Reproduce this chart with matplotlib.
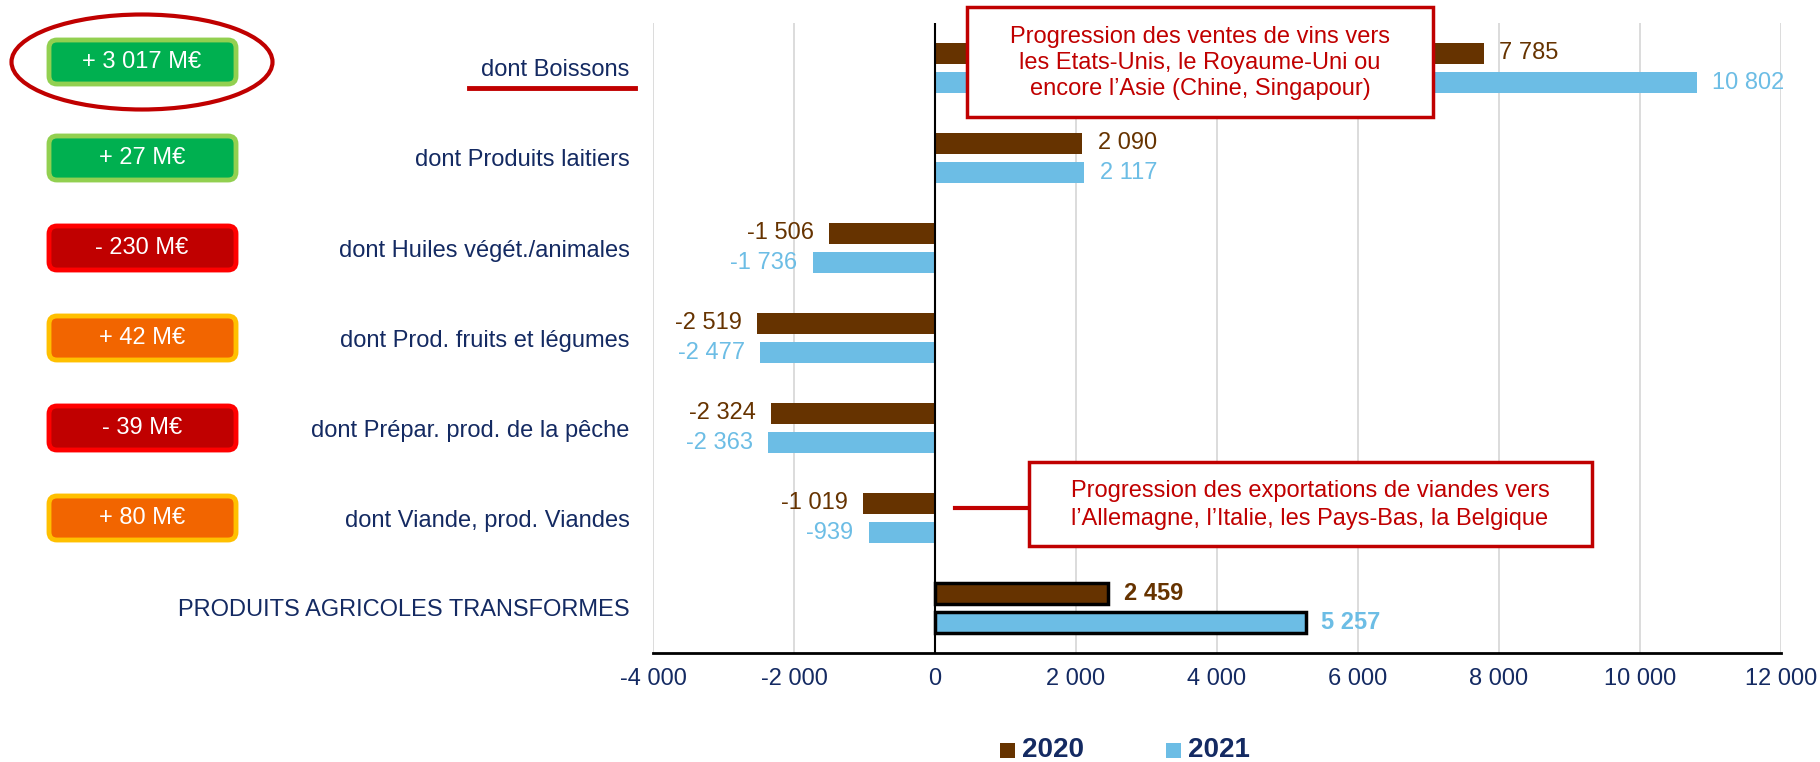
import matplotlib.pyplot as plt
from matplotlib.patches import FancyBboxPatch, Ellipse, Rectangle

plt.rcParams['font.family'] = ['Liberation Sans', 'DejaVu Sans']

# données (M€)
categories = ["dont Boissons", "dont Produits laitiers", "dont Huiles végét./animales",
              "dont Prod. fruits et légumes", "dont Prépar. prod. de la pêche",
              "dont Viande, prod. Viandes", "PRODUITS AGRICOLES TRANSFORMES"]
val_2020 = [7785, 2090, -1506, -2519, -2324, -1019, 2459]
val_2021 = [10802, 2117, -1736, -2477, -2363, -939, 5257]
ecart_types = ["vert", "vert", "rouge", "orange", "rouge", "orange"]
xticks = [-4000, -2000, 0, 2000, 4000, 6000, 8000, 10000, 12000]

note_boissons = "Progression des ventes de vins vers\nles Etats-Unis, le Royaume-Uni ou\nencore l\u2019Asie (Chine, Singapour)"
note_viandes = "Progression des exportations de viandes vers\nl\u2019Allemagne, l\u2019Italie, les Pays-Bas, la Belgique"

brun = "#663300"
bleu = "#6CBDE5"
marine = "#142A62"
rouge = "#C00000"
styles_boites = {"vert": ("#00B050", "#92D050"),
                 "rouge": ("#C00000", "#FF0000"),
                 "orange": ("#F26500", "#FFC000")}


def fr(v):
    return f"{v:,}".replace(",", " ")


W, H = 1820, 762
fig = plt.figure(figsize=(W / 100, H / 100), dpi=100)
ax = fig.add_axes([653 / W, 1 - 653 / H, (1781 - 653) / W, (653 - 23) / H])

n = len(categories)
pos = [n - 1 - i for i in range(n)]
off, h = 0.163, 0.24
edges = ["none"] * (n - 1) + ["black"]
lws = [0] * (n - 1) + [2.5]

ax.barh([p + off for p in pos], val_2020, height=h, color=brun, edgecolor=edges, linewidth=lws, zorder=3)
ax.barh([p - off for p in pos], val_2021, height=h, color=bleu, edgecolor=edges, linewidth=lws, zorder=3)

for vals, dy, col in [(val_2020, off, brun), (val_2021, -off, bleu)]:
    for i, (p, v) in enumerate(zip(pos, vals)):
        ax.annotate(fr(v), xy=(v, p + dy), xytext=(11 if v > 0 else -11, 0),
                    textcoords="offset points", ha="left" if v > 0 else "right",
                    va="center", color=col, fontsize=17,
                    fontweight="bold" if i == n - 1 else "normal", zorder=4)

ax.set_xlim(-4000, 12000)
ax.set_ylim(-0.5, n - 0.5)
ax.set_xticks(xticks, [fr(t) for t in xticks])
ax.set_yticks(pos, categories)
ax.tick_params(axis="x", length=0, pad=11, labelsize=17, labelcolor=marine)
ax.tick_params(axis="y", length=0, pad=17, labelsize=17, labelcolor=marine)
ax.grid(axis="x", color="#D9D9D9", linewidth=1.3)
ax.set_axisbelow(True)
ax.axvline(0, color="black", linewidth=1.5, zorder=3)
for s in ["left", "top", "right"]:
    ax.spines[s].set_visible(False)
ax.spines["bottom"].set_linewidth(2)

# calque en pixels pour les boites et annotations
ov = fig.add_axes([0, 0, 1, 1])
ov.set_xlim(0, W)
ov.set_ylim(H, 0)
ov.axis("off")

cys = [H - ax.transData.transform((0, p))[1] for p in pos]

for i, t in enumerate(ecart_types):
    d = val_2021[i] - val_2020[i]
    txt = f"{'+' if d > 0 else '-'} {fr(abs(d))} M€"
    fc, ec = styles_boites[t]
    cy = cys[i] - (6 if i == 0 else 0)
    ov.add_patch(FancyBboxPatch((49, cy - 22), 187, 44, boxstyle="round,pad=0,rounding_size=8",
                                fc=fc, ec=ec, lw=3.5))
    ov.text(142, cy, txt, color="white", fontsize=17, ha="center", va="center")

ov.add_patch(Ellipse((142, cys[0] - 6), 261, 95, fc="none", ec=rouge, lw=3))
ov.plot([469, 635], [cys[0] + 20, cys[0] + 20], color=rouge, lw=3.5)

ov.add_patch(Rectangle((967, 7), 466, 110, fc="white", ec=rouge, lw=2.5, zorder=5))
ov.text(1200, 63, note_boissons, color=rouge, fontsize=17, ha="center", va="center",
        linespacing=1.21, zorder=6)

ov.plot([955, 1029], [508, 508], color=rouge, lw=3)
ov.add_patch(Rectangle((1029, 462), 563, 84, fc="white", ec=rouge, lw=2.5, zorder=5))
ov.text(1310, 505, note_viandes, color=rouge, fontsize=17, ha="center", va="center",
        linespacing=1.32, zorder=6)

# légende
for x0, col, lab in [(1000, brun, "2020"), (1166, bleu, "2021")]:
    ov.add_patch(Rectangle((x0, 743), 15, 15, fc=col, ec="none"))
    ov.text(x0 + 22, 750, lab, color=marine, fontsize=20, fontweight="bold", ha="left", va="center")

fig.savefig("out.png", dpi=100)
